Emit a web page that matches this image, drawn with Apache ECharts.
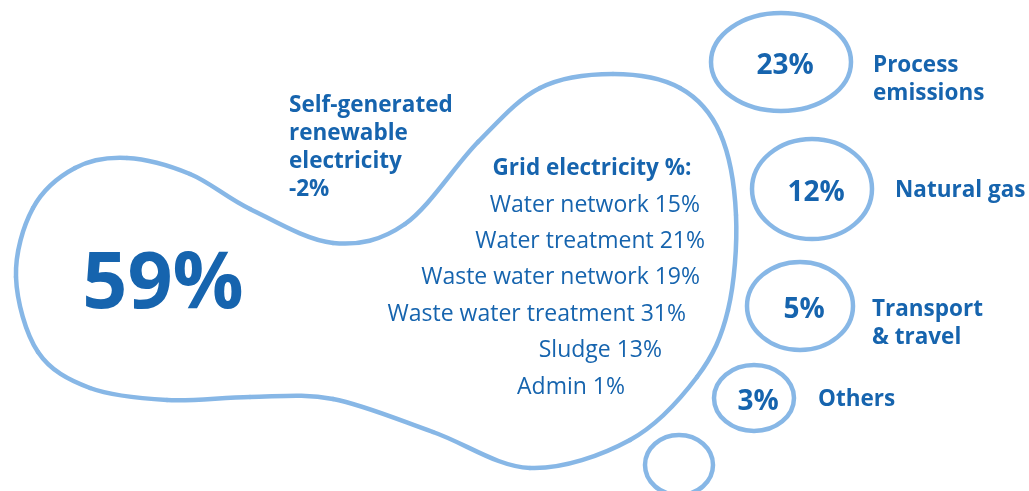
<!DOCTYPE html>
<html>
<head>
<meta charset="utf-8">
<style>
  html, body { margin: 0; padding: 0; background: #fff; }
  #main { width: 1029px; height: 491px; }
</style>
<script src="https://cdn.jsdelivr.net/npm/echarts@6/dist/echarts.min.js"></script>
</head>
<body>
<div id="main"></div>
<script>
// data
var mainValue = 59;
var selfGenLabel = ['Self-generated', 'renewable', 'electricity'];
var selfGenValue = -2;
var gridTitle = 'Grid electricity %:';
var gridCategories = ['Water network', 'Water treatment', 'Waste water network', 'Waste water treatment', 'Sludge', 'Admin'];
var gridValues = [15, 21, 19, 31, 13, 1];
var toeLabels = ['Process\nemissions', 'Natural gas', 'Transport\n& travel', 'Others'];
var toeValues = [23, 12, 5, 3];

// layout (not data)
var DARK = '#1664ae';
var LIGHT = '#87b7e6';
var FONT = '"Open Sans", sans-serif';
var toeLayout = [
  { cx: 781, cy: 62, rx: 70, ry: 49, lx: 873 },
  { cx: 812, cy: 189, rx: 60, ry: 50, lx: 895 },
  { cx: 800, cy: 306, rx: 53, ry: 44, lx: 872 },
  { cx: 754, cy: 398, rx: 40, ry: 33, lx: 818 }
];
var gridRight = [700, 705, 700, 686, 662, 625];
var footPts = [
  [16, 277], [33, 208], [75, 168], [127, 158], [190, 174], [250, 209],
  [333, 243], [405, 224], [478, 142], [540, 88], [613, 74],
  [680, 88], [720, 133], [736, 215], [728, 310], [697, 377],
  [630, 440], [530, 468], [433, 432], [333, 399], [250, 397],
  [167, 400], [90, 388], [38, 352]
];

var chart = echarts.init(document.getElementById('main'));
var elements = [];

// closed catmull-rom outline drawn as bezier segments
var n = footPts.length;
for (var i = 0; i < n; i++) {
  var p0 = footPts[(i - 1 + n) % n], p1 = footPts[i], p2 = footPts[(i + 1) % n], p3 = footPts[(i + 2) % n];
  elements.push({
    type: 'bezierCurve',
    shape: {
      x1: p1[0], y1: p1[1], x2: p2[0], y2: p2[1],
      cpx1: p1[0] + (p2[0] - p0[0]) / 6, cpy1: p1[1] + (p2[1] - p0[1]) / 6,
      cpx2: p2[0] - (p3[0] - p1[0]) / 6, cpy2: p2[1] - (p3[1] - p1[1]) / 6
    },
    style: { fill: 'none', stroke: LIGHT, lineWidth: 4.5, lineCap: 'round' }
  });
}

toeLayout.forEach(function (t, i) {
  var twoLine = toeLabels[i].indexOf('\n') >= 0;
  elements.push({
    type: 'ellipse',
    shape: { cx: t.cx, cy: t.cy, rx: t.rx, ry: t.ry },
    style: { fill: 'none', stroke: LIGHT, lineWidth: 4.5 }
  });
  elements.push({
    type: 'text', x: t.cx + 4, y: t.cy + 4,
    style: { text: toeValues[i] + '%', fill: DARK, font: 'bold 28px ' + FONT, align: 'center', verticalAlign: 'middle' }
  });
  elements.push({
    type: 'text', x: t.lx, y: t.cy + (twoLine ? 18 : 2),
    style: { text: toeLabels[i], fill: DARK, font: 'bold 22.5px ' + FONT, lineHeight: 28, align: 'left', verticalAlign: 'middle' }
  });
});

// little toe
elements.push({
  type: 'ellipse',
  shape: { cx: 679, cy: 465, rx: 34, ry: 30 },
  style: { fill: 'none', stroke: LIGHT, lineWidth: 4.5 }
});

elements.push({
  type: 'text', x: 163, y: 285,
  style: { text: mainValue + '%', fill: DARK, font: 'bold 79px ' + FONT, align: 'center', verticalAlign: 'middle' }
});

elements.push({
  type: 'text', x: 289, y: 148,
  style: { text: selfGenLabel.join('\n') + '\n' + selfGenValue + '%', fill: DARK, font: 'bold 22.5px ' + FONT, lineHeight: 28, align: 'left', verticalAlign: 'middle' }
});

elements.push({
  type: 'text', x: 592, y: 169,
  style: { text: gridTitle, fill: DARK, font: 'bold 22.5px ' + FONT, align: 'center', verticalAlign: 'middle' }
});

gridCategories.forEach(function (c, i) {
  elements.push({
    type: 'text', x: gridRight[i], y: 205 + i * 36.4,
    style: { text: c + ' ' + gridValues[i] + '%', fill: DARK, font: '23px ' + FONT, align: 'right', verticalAlign: 'middle' }
  });
});

chart.setOption({
  backgroundColor: '#fff',
  animation: false,
  graphic: { elements: elements }
});
</script>
</body>
</html>
